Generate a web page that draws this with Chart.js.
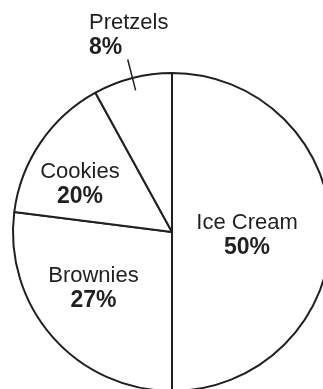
<!DOCTYPE html>
<html>
<head>
<meta charset="utf-8">
<script src="https://cdn.jsdelivr.net/npm/chart.js@4"></script>
<style>
html, body { margin: 0; padding: 0; background: #fff; overflow: hidden; width: 323px; height: 389px; }
#wrap { position: absolute; left: 0; top: 0; width: 344px; height: 464px; }
</style>
</head>
<body>
<div id="wrap"><canvas id="pie"></canvas></div>
<script>
const categories = ['Ice Cream', 'Brownies', 'Cookies', 'Pretzels'];
// slice sizes as drawn (share of the circle)
const sliceValues = [50, 27, 15, 8];
// percentages as printed on the chart
const printedLabels = ['50%', '27%', '20%', '8%'];

const ink = '#231f20';
const fontFamily = '"Liberation Sans", Helvetica, Arial, sans-serif';

// where each label's first baseline sits, in radius units from the centre
const labelPlace = [
    { x: 0.472, y: -0.019, align: 'center' },
    { x: -0.494, y: 0.314, align: 'center' },
    { x: -0.579, y: -0.34, align: 'center' },
    { x: -0.522, y: -1.277, align: 'left', leader: [0.92, 1.12] },
];

const sliceLabels = {
    id: 'sliceLabels',
    afterDatasetsDraw(chart) {
        const { ctx } = chart;
        const arcs = chart.getDatasetMeta(0).data;
        ctx.save();
        ctx.fillStyle = ink;
        ctx.strokeStyle = ink;
        ctx.textBaseline = 'alphabetic';
        arcs.forEach((arc, i) => {
            const { x, y, outerRadius, startAngle, endAngle } =
                arc.getProps(['x', 'y', 'outerRadius', 'startAngle', 'endAngle'], true);
            const p = labelPlace[i];
            const tx = x + p.x * outerRadius;
            const ty = y + p.y * outerRadius;
            ctx.textAlign = p.align;
            ctx.font = `22px ${fontFamily}`;
            ctx.fillText(categories[i], tx, ty);
            ctx.font = `bold 23px ${fontFamily}`;
            ctx.fillText(printedLabels[i], tx, ty + 25);
            if (p.leader) {
                const mid = (startAngle + endAngle) / 2;
                ctx.lineWidth = 1.5;
                ctx.beginPath();
                ctx.moveTo(x + Math.cos(mid) * outerRadius * p.leader[0], y + Math.sin(mid) * outerRadius * p.leader[0]);
                ctx.lineTo(x + Math.cos(mid) * outerRadius * p.leader[1], y + Math.sin(mid) * outerRadius * p.leader[1]);
                ctx.stroke();
            }
        });
        ctx.restore();
    },
};

new Chart(document.getElementById('pie'), {
    type: 'pie',
    data: {
        labels: categories,
        datasets: [
            {
                data: sliceValues,
                backgroundColor: '#ffffff',
                borderColor: ink,
                borderWidth: 2,
            },
        ],
    },
    options: {
        responsive: true,
        maintainAspectRatio: false,
        animation: false,
        radius: 159,
        layout: { padding: { left: 13, right: 13, top: 73, bottom: 73 } },
        plugins: {
            legend: { display: false },
            tooltip: { enabled: false },
        },
    },
    plugins: [sliceLabels],
});
</script>
</body>
</html>
